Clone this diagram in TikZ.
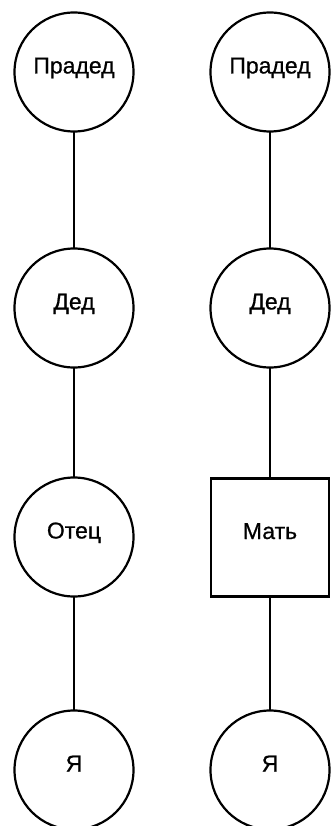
\documentclass[tikz,border=0pt]{standalone}
\usepackage{fontspec}
\newfontfamily\kinfont[FakeBold=0.7]{Liberation Sans}
\newcommand*{\namefont}{\kinfont\fontsize{23}{27}\selectfont}
\usepackage{tikz}
\usetikzlibrary{positioning}
\tikzstyle{base}=[x=1pt, y=-1pt, line width=2.2pt, inner sep=0pt, outer sep=0pt]
\tikzstyle{kin}=[draw, text height=10pt, text depth=7pt]
\tikzstyle{male}=[kin, circle, minimum size=119pt]
\tikzstyle{female}=[kin, rectangle, minimum size=118pt]

\begin{document}
\begin{tikzpicture}[base]
    \namefont
        \path [use as bounding box] (0,0) rectangle (331,826);
        % left line
        \node [male] (lpra) at (74,72) {Прадед};
        \node [male] (lded) at (74,308) {Дед};
        \node [male] (lfat) at (74,537) {Отец};
        \node [male] (lme) at (74,770) {Я};
        % right line
        \node [male] (rpra) at (270,72) {Прадед};
        \node [male] (rded) at (270,308) {Дед};
        \node [female] (rmot) at (270,537.5) {Мать};
        \node [male] (rme) at (270,770) {Я};
        \draw (lpra) -- (lded);
        \draw (lded) -- (lfat);
        \draw (lfat) -- (lme);
        \draw (rpra) -- (rded);
        \draw (rded) -- (rmot);
        \draw (rmot) -- (rme);
    \end{tikzpicture}
\end{document}
